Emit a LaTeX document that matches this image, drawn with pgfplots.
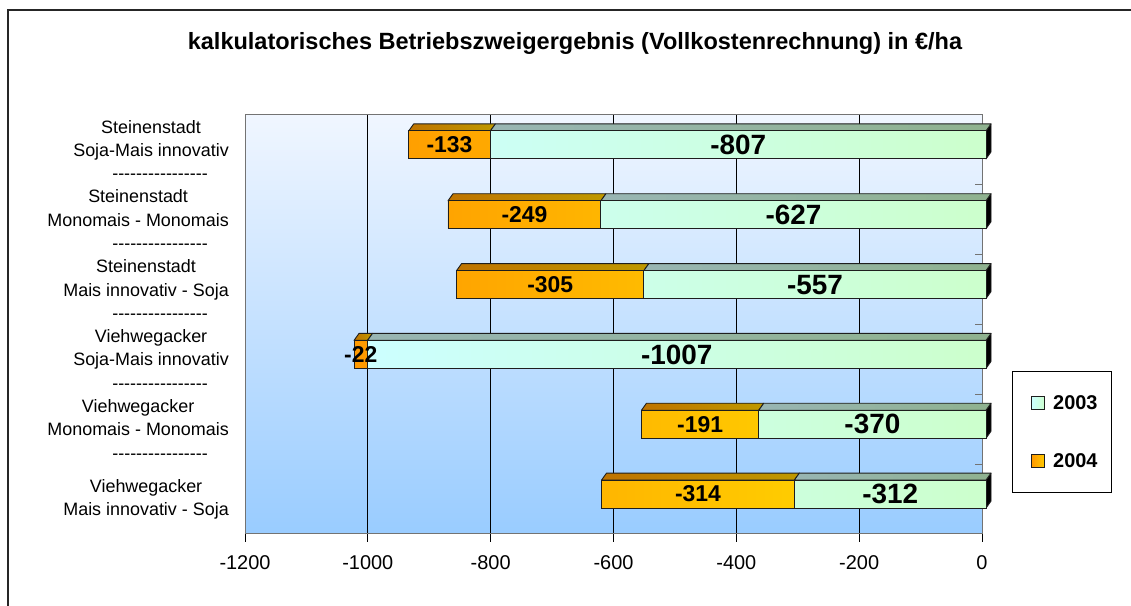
\documentclass[border=0pt]{standalone}
\usepackage{fontspec}
\setmainfont{Liberation Sans}
\usepackage{pgfplots}
\pgfplotsset{compat=1.18}
\usepackage{pgfplotstable}

\definecolor{cyanL}{RGB}{204,255,255}
\definecolor{greenL}{RGB}{204,255,204}
\definecolor{orangeD}{RGB}{255,153,0}
\definecolor{goldL}{RGB}{255,204,0}
\definecolor{topC}{RGB}{152,181,179}
\definecolor{topG}{RGB}{143,178,143}
\definecolor{topO}{RGB}{191,115,0}
\definecolor{topY}{RGB}{191,153,0}
\definecolor{wallTop}{RGB}{240,246,255}
\definecolor{wallBot}{RGB}{153,204,255}
\definecolor{edge}{RGB}{30,30,30}

% pos: 6 = top row
\pgfplotstableread{
pos v2003 v2004
6 -807 -133
5 -627 -249
4 -557 -305
3 -1007 -22
2 -370 -191
1 -312 -314
}\ergebnis

\newcommand\hy{\mbox{-}}
\newcommand\dashes{\hy\hy\hy\hy\hy\hy\hy\hy\hy\hy\hy\hy\hy\hy\hy\hy}
\newcommand\bigval{\bfseries\fontsize{28}{30}\selectfont}
\newcommand\smallval{\bfseries\fontsize{23}{26}\selectfont}
\gdef\labellist{}

% top faces and end face of one bar row; value labels are collected
% and set on top once the axis is finished
\newcommand{\barfaces}[3]{%
  \pgfmathsetmacro{\tot}{#2+#3}%
  \pgfmathsetmacro{\mida}{#2/2}%
  \pgfmathsetmacro{\midb}{#2+#3/2}%
  \edef\doit{%
    \noexpand\path[left color=topC, right color=topG, draw=edge, line width=0.9bp, line join=round]
      ([xshift=4bp,yshift=19bp]axis cs:0,#1) -- ([xshift=4bp,yshift=19bp]axis cs:#2,#1)
      -- ([xshift=9bp,yshift=26bp]axis cs:#2,#1) -- ([xshift=9bp,yshift=26bp]axis cs:0,#1) -- cycle;
    \noexpand\path[left color=topO, right color=topY, draw=edge, line width=0.9bp, line join=round]
      ([xshift=4bp,yshift=19bp]axis cs:#2,#1) -- ([xshift=4bp,yshift=19bp]axis cs:\tot,#1)
      -- ([xshift=9bp,yshift=26bp]axis cs:\tot,#1) -- ([xshift=9bp,yshift=26bp]axis cs:#2,#1) -- cycle;
    \noexpand\path[fill=black, draw=edge, line width=0.9bp, line join=round]
      ([xshift=4bp,yshift=19bp]axis cs:0,#1) -- ([xshift=9bp,yshift=26bp]axis cs:0,#1)
      -- ([xshift=9bp,yshift=-2bp]axis cs:0,#1) -- ([xshift=4bp,yshift=-9bp]axis cs:0,#1) -- cycle;
    \noexpand\coordinate (la#1) at ([xshift=4bp,yshift=5bp]axis cs:\mida,#1);
    \noexpand\coordinate (lb#1) at ([xshift=4bp,yshift=5bp]axis cs:\midb,#1);
  }\doit
  \xdef\labellist{\unexpanded\expandafter{\labellist}%
    \noexpand\node[font=\noexpand\bigval, inner sep=0pt] at (la#1) {#2};%
    \noexpand\node[font=\noexpand\smallval, inner sep=0pt] at (lb#1) {#3};}%
}

\begin{document}
\begin{tikzpicture}
\useasboundingbox (0bp,0bp) rectangle (1131bp,606bp);
\draw[line width=1.3bp, black!85] (8bp,-30bp) -- (8bp,596bp) -- (1160bp,596bp);
\node[font=\bfseries\fontsize{23.6}{27}\selectfont] at (575bp,563bp)
  {kalkulatorisches Betriebszweigergebnis (Vollkostenrechnung) in €/ha};
\begin{axis}[
  at={(245bp,72bp)}, anchor=south west,
  scale only axis, width=737bp, height=419bp,
  xbar stacked, bar width=28bp, bar shift=5bp,
  xmin=-1200, xmax=0, ymin=0.5, ymax=6.5,
  clip=false,
  axis background/.style={top color=wallTop, bottom color=wallBot},
  axis line style={draw=gray!90!black, line width=1bp},
  xtick={-1200,-1000,-800,-600,-400,-200,0},
  xticklabels={-1200,-1000,-800,-600,-400,-200,0},
  xtick pos=left, tick align=outside, major tick length=8bp,
  tick style={black, line width=0.8bp},
  xmajorgrids, grid style={black, line width=0.8bp},
  xticklabel style={font=\fontsize{20}{24}\selectfont, inner sep=0pt, yshift=-13bp},
  ytick=\empty,
  extra y ticks={1,2,3,4,5,6},
  extra y tick labels={
    {Viehwegacker\\Mais innovativ - Soja},
    {Viehwegacker\\Monomais - Monomais\\\hspace*{44bp}\dashes},
    {Viehwegacker\\Soja-Mais innovativ\\\hspace*{18bp}\dashes},
    {Steinenstadt\\Mais innovativ - Soja\\\hspace*{28bp}\dashes},
    {Steinenstadt\\Monomais - Monomais\\\hspace*{44bp}\dashes},
    {Steinenstadt\\Soja-Mais innovativ\\\hspace*{18bp}\dashes}},
  extra y tick style={major tick length=0pt, grid=none},
  yticklabel style={font=\fontsize{18}{23.5}\selectfont, align=center,
    inner sep=0pt, anchor=east, xshift=-16bp},
  legend style={at={(1.0407,0.389)}, anchor=north west, draw=black,
    line width=0.8bp, fill=white, inner xsep=14bp, inner ysep=24bp,
    row sep=43.5bp, column sep=8bp,
    nodes={inner sep=0pt, text height=14.5bp, text depth=0pt},
    font=\bfseries\fontsize{20}{24}\selectfont},
  legend cell align=left,
]
\addplot[forget plot, left color=cyanL, right color=greenL, draw=edge, line width=0.9bp, xshift=4bp]
  table[x=v2003, y=pos] {\ergebnis};
\addplot[forget plot, left color=orangeD, right color=goldL, draw=edge, line width=0.9bp, xshift=4bp]
  table[x=v2004, y=pos] {\ergebnis};

\barfaces{6}{-807}{-133}
\barfaces{5}{-627}{-249}
\barfaces{4}{-557}{-305}
\barfaces{3}{-1007}{-22}
\barfaces{2}{-370}{-191}
\barfaces{1}{-312}{-314}

\pgfplotsinvokeforeach{1.5,2.5,3.5,4.5,5.5}{
  \draw[gray!90!black, line width=1bp] (axis cs:0,#1) -- ++(-7bp,0bp);
}

\addlegendimage{legend image code/.code={\path (0,0); \path[left color=cyanL, right color=greenL, draw=edge, line width=0.8bp] (5bp,-6.5bp) rectangle (18bp,6.5bp);}}
\addlegendentry{2003}
\addlegendimage{legend image code/.code={\path (0,0); \path[left color=orangeD, right color=goldL, draw=edge, line width=0.8bp] (5bp,-6.5bp) rectangle (18bp,6.5bp);}}
\addlegendentry{2004}
\end{axis}
\labellist
\end{tikzpicture}
\end{document}
